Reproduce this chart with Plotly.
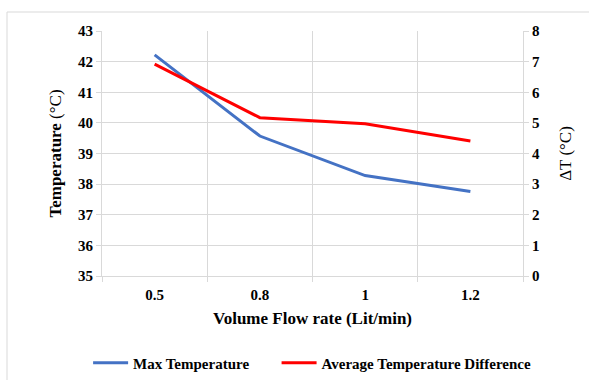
import plotly.graph_objects as go

categories = ["0.5", "0.8", "1", "1.2"]
max_temp = [42.22, 39.57, 38.28, 37.76]
avg_temp_diff = [6.92, 5.17, 4.97, 4.41]
left_ticks = [35, 36, 37, 38, 39, 40, 41, 42, 43]
right_ticks = [0, 1, 2, 3, 4, 5, 6, 7, 8]

FONT = "Liberation Serif, Times New Roman, serif"
grid = "#d9d9d9"

fig = go.Figure()
fig.add_trace(go.Scatter(x=categories, y=max_temp, mode="lines",
                         name="<b>Max Temperature</b>" + "&nbsp;" * 6,
                         line=dict(color="#4472C4", width=3)))
fig.add_trace(go.Scatter(x=categories, y=avg_temp_diff, mode="lines",
                         name="<b>Average Temperature Difference</b>",
                         line=dict(color="#FF0000", width=3), yaxis="y2"))

tickfont = dict(family=FONT, size=15, color="black", weight="bold")

fig.update_layout(
    width=589, height=380,
    margin=dict(l=102, r=66, t=31, b=104, autoexpand=False),
    paper_bgcolor="white", plot_bgcolor="white",
    font=dict(family=FONT, color="black", size=15),
    xaxis=dict(type="category", range=[-0.5, 3.5], tickson="boundaries",
               showgrid=True, gridcolor=grid, gridwidth=1,
               showline=True, linecolor=grid, linewidth=1,
               ticks="outside", ticklen=5, tickcolor=grid,
               tickfont=tickfont, ticklabelstandoff=5,
               title=dict(text="<b>Volume Flow rate (Lit/min)</b>", font=dict(family=FONT, size=17), standoff=10),
               zeroline=False, automargin=False),
    yaxis=dict(range=[35, 43], tickvals=left_ticks, showgrid=True, gridcolor=grid, gridwidth=1,
               showline=True, linecolor=grid, linewidth=1,
               ticks="outside", ticklen=5, tickcolor=grid,
               tickfont=tickfont,
               title=dict(text="<b>Temperature</b> (°C)", font=dict(family=FONT, size=17), standoff=12),
               zeroline=False, automargin=False),
    yaxis2=dict(range=[0, 8], tickvals=right_ticks, overlaying="y", side="right",
                showgrid=False, showline=True, linecolor=grid, linewidth=1,
                ticks="outside", ticklen=5, tickcolor=grid,
                tickfont=tickfont,
                title=dict(text="ΔT (°C)", font=dict(family=FONT, size=17), standoff=20),
                zeroline=False, automargin=False),
    legend=dict(orientation="h", x=-0.033, xanchor="left", y=-0.355, yanchor="middle",
                font=dict(family=FONT, size=15), itemwidth=35, bgcolor="rgba(0,0,0,0)"),
    showlegend=True,
)

fig.add_shape(type="rect", xref="paper", yref="paper",
              x0=(7 - 102) / 421, x1=1.5, y0=-0.6, y1=1 + (31 - 12) / 245,
              line=dict(color="#d9d9d9", width=1), fillcolor="rgba(0,0,0,0)", layer="below")

fig.write_html("out.html", config={"displayModeBar": False},
               post_script="document.body.style.margin='0px';")
